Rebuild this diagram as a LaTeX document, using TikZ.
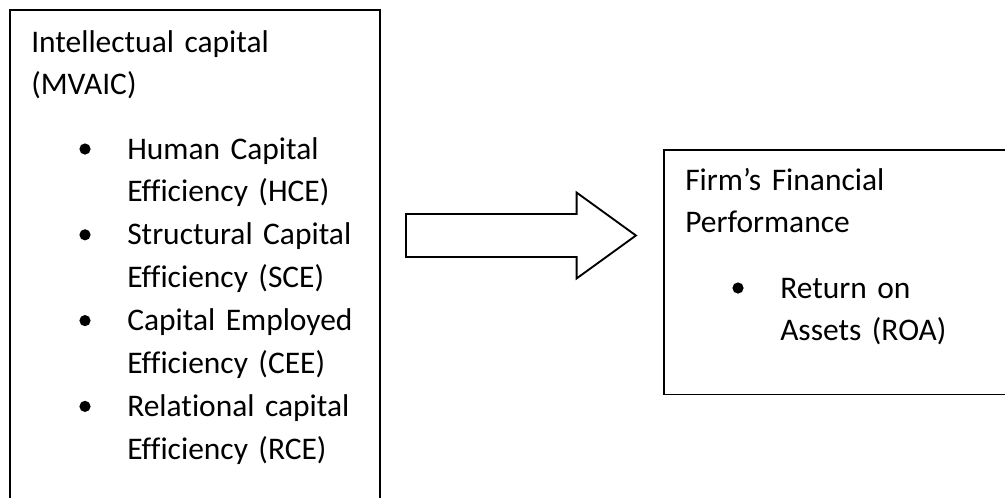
\documentclass[tikz,border=0pt]{standalone}
\usepackage{fontspec}
\setmainfont{Carlito}[Ligatures=CommonOff]
\usetikzlibrary{shapes.arrows,positioning}

\begin{document}
\begin{tikzpicture}
  [x=0.75pt, y=-0.75pt,
 frame/.style={
  rectangle,
  inner sep=0pt},
 edge/.style={
  draw=black,
  line width=1.4pt}, % border
 txt/.style={
  anchor=base west,
  inner sep=0pt,
  text width=200pt,
  align=left,
  font=\fontsize{23.6pt}{32.2pt}\selectfont},
 dot/.style={
  circle,
  fill=black,
  inner sep=0pt,
  minimum size=8.4pt},
 bigarrow/.style={
  single arrow,
  draw=black,
  line width=1.4pt,
  inner xsep=0pt,
  inner ysep=15.4pt,
  minimum height=172.5pt,
  single arrow head extend=16.1pt,
  single arrow tip angle=71.8}]
\path[use as bounding box, clip] (0,0) rectangle (1005,497);
% boxes, both run on past the edge of the picture
\node (ic) [frame, anchor=north, minimum width=277.5pt, minimum height=400pt] at (195,10) {};
\node (perf) [frame, anchor=north west, minimum width=300pt, minimum height=183pt] at (664,150) {};
\path[edge] (ic.south west) -- (ic.north west) -- (ic.north east) -- (ic.south east);
\path[edge] (perf.north east) -- (perf.north west) -- (perf.south west) -- (perf.south east);
% left box text
\node (ictitle) [txt] at (31,52) {Intellectual capital\\(MVAIC)};
\node (hcedot) [dot] at (85,149) {};
\node (hce) [txt] at (127,159) {Human Capital\\Efficiency (HCE)};
\node (scedot) [dot] at (85,234.8) {};
\node (sce) [txt] at (127,244.8) {Structural Capital\\Efficiency (SCE)};
\node (ceedot) [dot] at (85,320.6) {};
\node (cee) [txt] at (127,330.6) {Capital Employed\\Efficiency (CEE)};
\node (rcedot) [dot] at (85,406.4) {};
\node (rce) [txt] at (127,416.4) {Relational capital\\Efficiency (RCE)};
% right box text
\node (perftitle) [txt] at (685,190) {Firm’s Financial\\Performance};
\node (roadot) [dot] at (738,288) {};
\node (roa) [txt] at (780,298) {Return on\\Assets (ROA)};
% arrow
\node (link) [bigarrow, anchor=tail] at (405,235.5) {};
\end{tikzpicture}
\end{document}
